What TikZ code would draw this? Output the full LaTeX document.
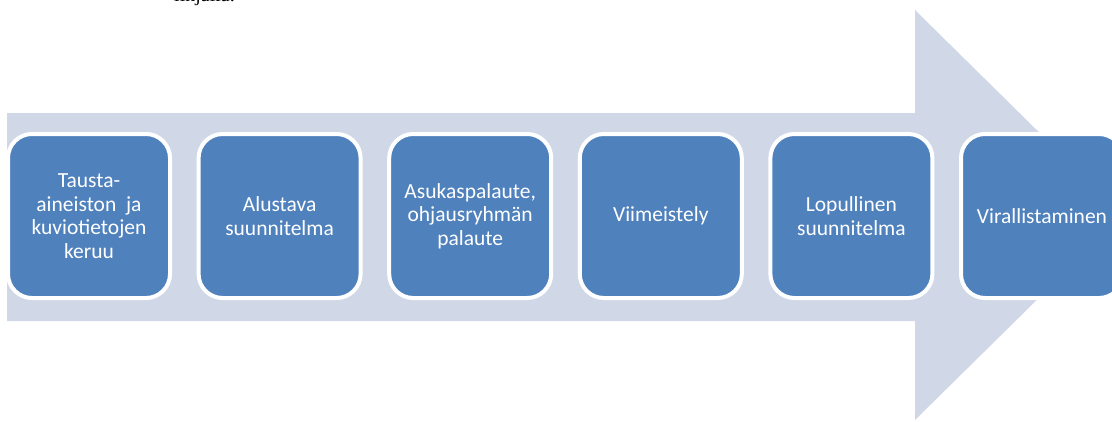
\documentclass[tikz,border=0pt]{standalone}
\usepackage{fontspec}
\setmainfont{Liberation Serif}
\newfontfamily\boxfont{Carlito}
\usetikzlibrary{positioning}
\definecolor{stepblue}{HTML}{4F81BD}
\definecolor{bandgrey}{HTML}{D0D8E8}
\tikzset{
  stepbox/.style={rectangle, rounded corners=24pt, fill=stepblue, draw=white,
    line width=4pt, minimum width=162pt, minimum height=164pt,
    text=white, align=center, font=\boxfont\fontsize{21.5}{23.5}\selectfont}
}

\begin{document}
\begin{tikzpicture}[x=1pt,y=-1pt,node distance=190.6pt,on grid]
\useasboundingbox (0,0) rectangle (1112,421);
\clip (0,0) rectangle (1112,421);
% the big arrow behind the steps
\fill[bandgrey] (7,113) -- (915,113) -- (915,10) -- (1123,215)
   -- (915,420) -- (915,321) -- (7,321) -- cycle;
% line of text cut off at the top
\node[anchor=base west, inner sep=0pt, font=\fontsize{20}{24}\selectfont] (cut) at (174,1.5) {linjalla.};
%% the steps
\node[stepbox] (s1) at (89,216) {Tausta-\\aineiston~ ja\\kuviotietojen\\keruu};
\node[stepbox, right=of s1] (s2) {Alustava\\suunnitelma};
\node[stepbox, right=of s2] (s3) {Asukaspalaute,\\ohjausryhmän\\palaute};
\node[stepbox, right=of s3] (s4) {Viimeistely};
\node[stepbox, right=of s4] (s5) {Lopullinen\\suunnitelma};
\node[stepbox, right=of s5] (s6) {Virallistaminen};
\end{tikzpicture}
\end{document}
